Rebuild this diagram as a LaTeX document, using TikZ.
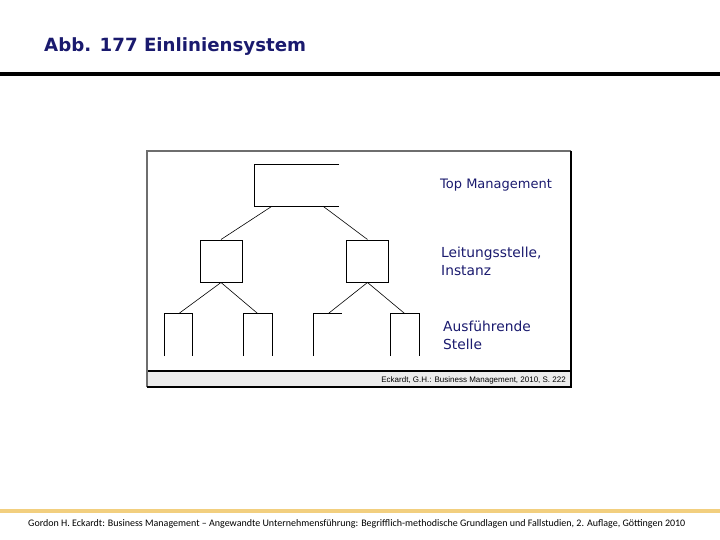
\documentclass[tikz,border=0pt]{standalone}
\usepackage{fontspec}
\setmainfont{DejaVu Sans}
\newfontfamily\citefont{Carlito}
\newfontfamily\srcfont{Liberation Sans}
\usepackage{xcolor}
\usepackage{tikz}
\usetikzlibrary{positioning}

\definecolor{navy}{RGB}{26,26,110}
\definecolor{gold}{RGB}{242,207,127}
\definecolor{framegray}{RGB}{110,110,110}
\definecolor{bandgray}{RGB}{236,236,236}

\tikzset{
    topunit/.style={inner sep=0pt,minimum width=84pt,minimum height=41pt},
    midunit/.style={draw,line width=1pt,inner sep=0pt,minimum width=42pt,minimum height=42pt},
    lowunit/.style={inner sep=0pt,minimum width=28pt,minimum height=42pt},
    boxline/.style={line width=1pt},
    link/.style={line width=0.6pt},
    tag/.style={anchor=west,align=left,inner sep=0pt,text=navy,font=\fontsize{13.8}{18}\selectfont}
}

\begin{document}
\begin{tikzpicture}[x=1pt,y=-1pt]
        \useasboundingbox (0,0) rectangle (720,540);
        % header
        \node[anchor=west,inner sep=0pt,text=navy,font=\bfseries\fontsize{18.2}{20}\selectfont] (title) at (44,47) {Abb. 177 Einliniensystem};
        \draw[line width=4pt] (0,74) -- (720,74);

        % frame of the figure
        \fill[bandgray] (148,372) rectangle (571,387);
        \draw[line width=2pt] (148,371) -- (571,371);
        \draw[framegray,line width=1.5pt] (147,387) -- (147,151) -- (571,151);
        \draw[line width=1.2pt] (571,151) -- (571,387) -- (147,387);

        % units
        \node[topunit] (top) at (297,185.5) {};
        \node[midunit] (mid1) at (221,261) {};
        \node[midunit] (mid2) at (367.5,261) {};
        \node[lowunit] (low1) at (178.5,335) {};
        \node[lowunit] (low2) at (258,335) {};
        \node[lowunit] (low3) at (328,335) {};
        \node[lowunit] (low4) at (405,335) {};

        \draw[boxline] (top.north east) -- (top.north west) -- (top.south west) -- (top.south east);
        \foreach \n in {low1,low2,low4}
            \draw[boxline] (\n.south west) -- (\n.north west) -- (\n.north east) -- (\n.south east);
        \draw[boxline] (low3.south west) -- (low3.north west) -- (low3.north east);

        % lines
        \draw[link] ([xshift=-25pt]top.south) -- (mid1.north);
        \draw[link] ([xshift=26pt]top.south) -- (mid2.north);
        \draw[link] (mid1.south) -- (low1.north);
        \draw[link] (mid1.south) -- (low2.north);
        \draw[link] (mid2.south) -- (low3.north);
        \draw[link] (mid2.south) -- (low4.north);

        % labels
        \node[tag,font=\fontsize{13}{18}\selectfont] (toplabel) at (440,185) {Top Management};
        \node[tag] (midlabel) at (441,261) {Leitungsstelle,\\Instanz};
        \node[tag] (lowlabel) at (443,335) {Ausführende\\Stelle};
        \node[anchor=east,inner sep=0pt,font=\srcfont\fontsize{8}{9}\selectfont] (source) at (566,380) {Eckardt, G.H.: Business Management, 2010, S. 222};

        % footer
        \draw[gold,line width=4pt] (0,511) -- (720,511);
        \node[anchor=west,inner sep=0pt,font=\citefont\fontsize{10}{11}\selectfont] (cite) at (28,524) {Gordon H. Eckardt: Business Management – Angewandte Unternehmensführung: Begrifflich-methodische Grundlagen und Fallstudien, 2. Auflage, Göttingen 2010};
\end{tikzpicture}
\end{document}
